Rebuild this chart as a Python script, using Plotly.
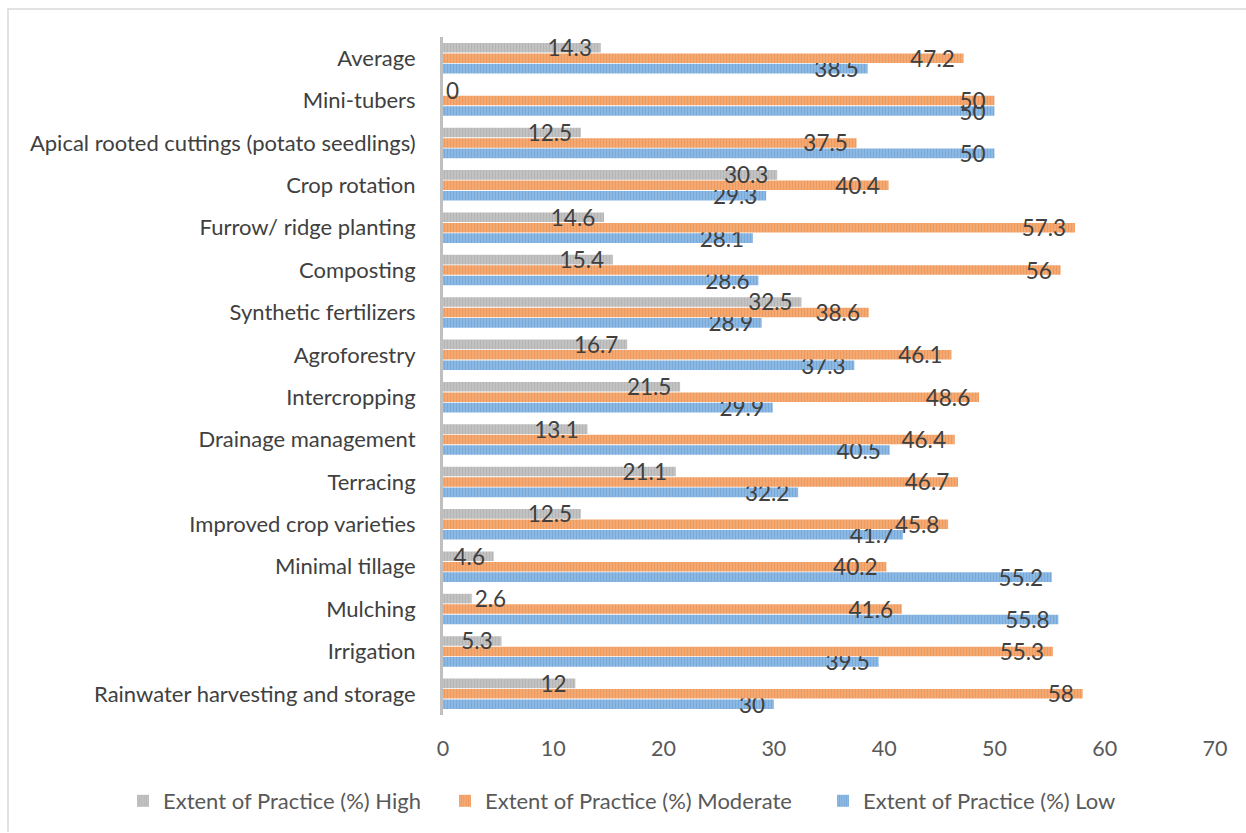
import plotly.graph_objects as go

categories = [
    "Rainwater harvesting and storage", "Irrigation", "Mulching", "Minimal tillage",
    "Improved crop varieties", "Terracing", "Drainage management", "Intercropping",
    "Agroforestry", "Synthetic fertilizers", "Composting", "Furrow/ ridge planting",
    "Crop rotation", "Apical rooted cuttings (potato seedlings)", "Mini-tubers", "Average",
]
low = [30, 39.5, 55.8, 55.2, 41.7, 32.2, 40.5, 29.9, 37.3, 28.9, 28.6, 28.1, 29.3, 50, 50, 38.5]
moderate = [58, 55.3, 41.6, 40.2, 45.8, 46.7, 46.4, 48.6, 46.1, 38.6, 56, 57.3, 40.4, 37.5, 50, 47.2]
high = [12, 5.3, 2.6, 4.6, 12.5, 21.1, 13.1, 21.5, 16.7, 32.5, 15.4, 14.6, 30.3, 12.5, 0, 14.3]
x_ticks = [0, 10, 20, 30, 40, 50, 60, 70]

W, H = 1246, 833
ml, mr, mt, mb = 443, 31, 37, 117
pw, ph = W - ml - mr, H - mt - mb

# (name, values, stripe colour, base colour, legend id, legend text-start px)
series = [
    ("Extent of Practice (%) Low", low, "#4A8DD0", "#A3C6E8", "legend3", 863),
    ("Extent of Practice (%) Moderate", moderate, "#EC7728", "#F6B98E", "legend2", 485),
    ("Extent of Practice (%) High", high, "#9C9C9C", "#CFCFCF", "legend", 163),
]

FONT = "Lato"
NBSP = "\u00a0"
fig = go.Figure()
legend_layout = {}
for name, vals, fg, bg, lg, tx in series:
    short = [v < 4 for v in vals]  # labels too wide for the bar sit just past its end
    fig.add_trace(go.Bar(
        y=categories, x=vals, name=name, orientation="h", legend=lg,
        marker=dict(color=bg, line=dict(width=0),
                    pattern=dict(shape="|", fgcolor=fg, bgcolor=bg, size=3, solidity=0.67)),
        text=[f"{v:g}" if s else f"{v:g}{NBSP}" for v, s in zip(vals, short)],
        textposition=["outside" if s else "inside" for s in short],
        insidetextanchor="end", constraintext="none",
        textangle=0, cliponaxis=False,
        textfont=dict(family=FONT, size=22.5, color="#404040"),
    ))
    legend_layout[lg] = dict(orientation="h", x=(tx - 40 - ml) / pw, xanchor="left",
                             y=-(801 - mt - ph) / ph, yanchor="middle",
                             font=dict(family=FONT, size=22, color="#595959"),
                             itemwidth=30, bgcolor="rgba(0,0,0,0)")

fig.update_layout(
    width=W, height=H, barmode="group", bargap=0.26, bargroupgap=0.08,
    margin=dict(l=ml, r=mr, t=mt, b=mb),
    paper_bgcolor="white", plot_bgcolor="white",
    font=dict(family=FONT, size=22, color="#404040"),
    uniformtext=dict(mode=False),
    xaxis=dict(range=[0, 70], tickvals=x_ticks, showgrid=False, zeroline=False,
               showline=False, ticks="", ticklabelstandoff=18,
               tickfont=dict(size=21.5, color="#595959")),
    yaxis=dict(type="category", categoryorder="array", categoryarray=categories,
               showgrid=False, showline=True, linecolor="#BFBFBF", linewidth=3,
               ticks="", ticklabelstandoff=20, tickfont=dict(size=22, color="#404040")),
    showlegend=True,
    shapes=[dict(type="path", xref="paper", yref="paper",
                 path=f"M {(8 - ml) / pw},{-(H - mt - ph) / ph} L {(8 - ml) / pw},{(ph + mt - 9) / ph} L {(W + 5 - ml) / pw},{(ph + mt - 9) / ph}",
                 line=dict(color="#D9D9D9", width=1.5))],
    **legend_layout,
)
fig.write_html("out.html")
